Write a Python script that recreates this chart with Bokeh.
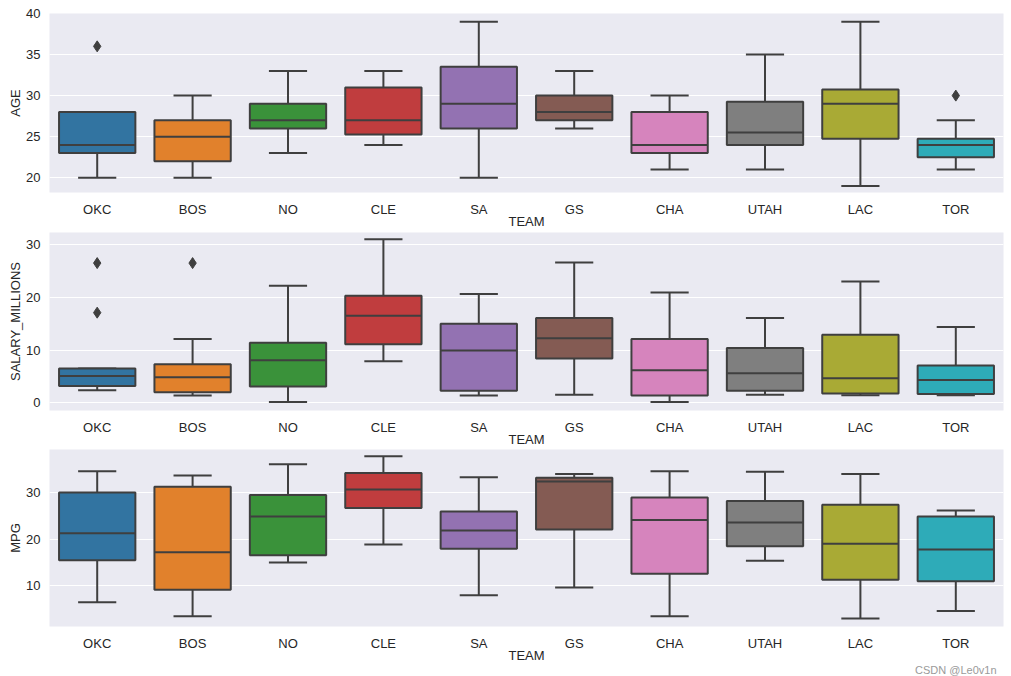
from bokeh.plotting import figure
from bokeh.layouts import column
from bokeh.models import ColumnDataSource, FixedTicker, Range1d, Title
from bokeh.transform import dodge
from bokeh.embed import file_html
from bokeh.resources import INLINE

teams = ["OKC", "BOS", "NO", "CLE", "SA", "GS", "CHA", "UTAH", "LAC", "TOR"]
colors = ["#3274a1", "#e1812c", "#3a923a", "#c03d3e", "#9372b2",
          "#845b53", "#d684bd", "#7f7f7f", "#a9aa35", "#2eabb8"]

# AGE box stats: lower whisker, Q1, median, Q3, upper whisker
age_low = [20, 20, 23, 24, 20, 26, 21, 21, 19, 21]
age_q1 = [23, 22, 26, 25.25, 26, 27, 23, 24, 24.75, 22.5]
age_med = [24, 25, 27, 27, 29, 28, 24, 25.5, 29, 24]
age_q3 = [28, 27, 29, 31, 33.5, 30, 28, 29.25, 30.75, 24.75]
age_high = [28, 30, 33, 33, 39, 33, 30, 35, 39, 27]
age_out_team = ["OKC", "TOR"]
age_out_val = [36, 30]
age_ticks = [20, 25, 30, 35, 40]

# SALARY_MILLIONS
sal_low = [2.4, 1.4, 0.15, 7.9, 1.4, 1.55, 0.15, 1.55, 1.43, 1.43]
sal_q1 = [3.2, 2.0, 3.1, 11.1, 2.3, 8.4, 1.4, 2.3, 1.75, 1.7]
sal_med = [5.1, 4.85, 8.1, 16.5, 9.95, 12.25, 6.2, 5.6, 4.65, 4.35]
sal_q3 = [6.5, 7.3, 11.4, 20.3, 15.0, 16.1, 12.1, 10.4, 12.9, 7.1]
sal_high = [6.5, 12.1, 22.2, 31.0, 20.65, 26.6, 20.9, 16.1, 23.0, 14.4]
sal_out_team = ["OKC", "OKC", "BOS"]
sal_out_val = [26.5, 17.1, 26.5]
sal_ticks = [0, 10, 20, 30]

# MPG
mpg_low = [6.5, 3.5, 15.0, 18.9, 8.0, 9.65, 3.5, 15.4, 3.0, 4.6]
mpg_q1 = [15.5, 9.16, 16.6, 26.7, 18.0, 22.1, 12.6, 18.5, 11.3, 11.0]
mpg_med = [21.3, 17.2, 24.9, 30.7, 21.9, 32.4, 24.15, 23.6, 19.05, 17.8]
mpg_q3 = [30.05, 31.25, 29.5, 34.2, 25.95, 33.2, 28.95, 28.2, 27.4, 24.9]
mpg_high = [34.6, 33.7, 36.1, 37.8, 33.3, 34.0, 34.6, 34.5, 34.0, 26.2]
mpg_out_team = []
mpg_out_val = []
mpg_ticks = [10, 20, 30]

FONT = "Liberation Sans"
TXT = "#262626"
LINE = "#3f3f3f"
BG = "#eaeaf2"


def make_panel(ylabel, low, q1, med, q3, high, out_t, out_v, ticks, yr,
               top_border, height, show_wm=False):
    p = figure(x_range=teams, y_range=Range1d(*yr), width=1008,
               height=height, output_backend="svg",
               toolbar_location=None, min_border_left=49,
               min_border_right=5, min_border_top=top_border,
               min_border_bottom=0)
    p.background_fill_color = BG
    p.border_fill_color = "white"
    p.outline_line_color = None
    p.xgrid.grid_line_color = None
    p.ygrid.grid_line_color = "white"
    p.ygrid.grid_line_width = 1.2
    p.yaxis.ticker = FixedTicker(ticks=ticks)
    for ax in (p.xaxis[0], p.yaxis[0]):
        ax.axis_line_color = None
        ax.major_tick_line_color = None
        ax.minor_tick_line_color = None
        ax.major_tick_out = 0
        ax.major_tick_in = 0
        ax.major_label_text_font = FONT
        ax.major_label_text_font_size = "13px"
        ax.major_label_text_color = TXT
        ax.axis_label_text_font = FONT
        ax.axis_label_text_font_size = "13px"
        ax.axis_label_text_color = TXT
        ax.axis_label_text_font_style = "normal"
    p.xaxis.axis_label_standoff = -6
    p.yaxis.axis_label_standoff = 0
    p.xaxis.major_label_standoff = 9
    p.yaxis.major_label_standoff = 9
    p.xaxis.axis_label = "TEAM"
    p.yaxis.axis_label = ylabel

    src = ColumnDataSource(dict(team=teams, low=low, q1=q1, med=med,
                                q3=q3, high=high, color=colors))
    # whiskers
    p.segment(x0="team", y0="q3", x1="team", y1="high", source=src,
              line_color=LINE, line_width=2)
    p.segment(x0="team", y0="q1", x1="team", y1="low", source=src,
              line_color=LINE, line_width=2)
    # caps
    p.segment(x0=dodge("team", -0.2, range=p.x_range), y0="high",
              x1=dodge("team", 0.2, range=p.x_range), y1="high",
              source=src, line_color=LINE, line_width=2)
    p.segment(x0=dodge("team", -0.2, range=p.x_range), y0="low",
              x1=dodge("team", 0.2, range=p.x_range), y1="low",
              source=src, line_color=LINE, line_width=2)
    # boxes
    p.vbar(x="team", width=0.8, bottom="q1", top="q3", source=src,
           fill_color="color", line_color=LINE, line_width=2)
    # medians
    p.segment(x0=dodge("team", -0.4, range=p.x_range), y0="med",
              x1=dodge("team", 0.4, range=p.x_range), y1="med",
              source=src, line_color=LINE, line_width=2)
    if out_t:
        osrc = ColumnDataSource(dict(team=out_t, val=out_v))
        p.scatter(x="team", y="val", source=osrc, marker="diamond", size=11,
                  fill_color=LINE, line_color=LINE)
    if show_wm:
        p.add_layout(Title(text="CSDN @Le0v1n", align="right", offset=7,
                           standoff=-3, vertical_align="top",
                           text_baseline="bottom", text_font=FONT,
                           text_font_size="11px", text_font_style="normal",
                           text_color="#9a9a9a"), "below")
    return p


p1 = make_panel("AGE", age_low, age_q1, age_med, age_q3, age_high,
                age_out_team, age_out_val, age_ticks, (18.2, 40.0), 13, 231)
p2 = make_panel("SALARY_MILLIONS", sal_low, sal_q1, sal_med, sal_q3, sal_high,
                sal_out_team, sal_out_val, sal_ticks, (-1.45, 32.3), 1, 218)
p3 = make_panel("MPG", mpg_low, mpg_q1, mpg_med, mpg_q3, mpg_high,
                mpg_out_team, mpg_out_val, mpg_ticks, (1.3, 39.26), 0, 227,
                show_wm=True)

layout = column(p1, p2, p3, spacing=0)
open("out.html", "w").write(file_html(layout, INLINE))
